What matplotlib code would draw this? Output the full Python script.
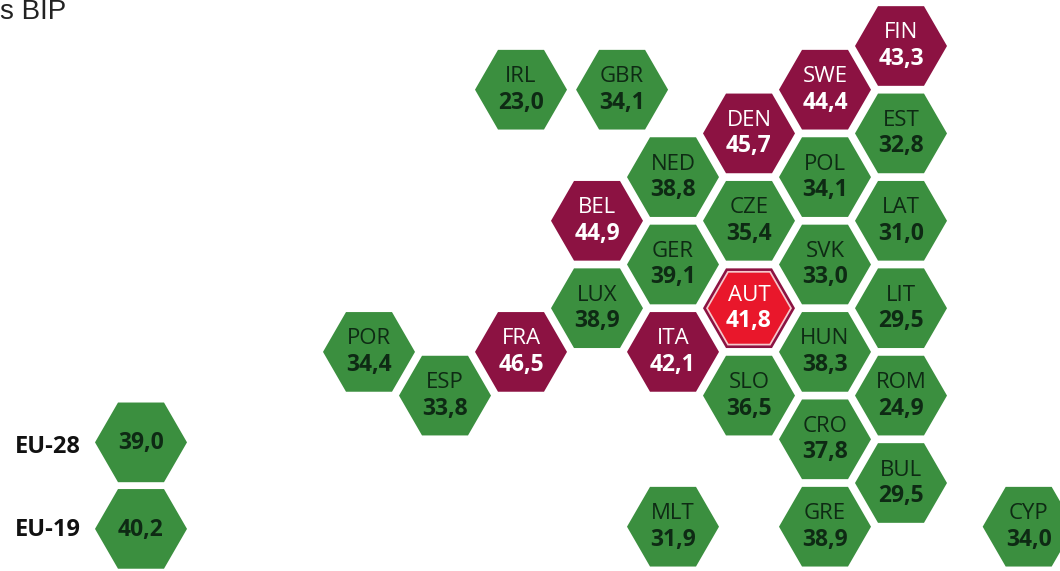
import matplotlib
matplotlib.use('Agg')
import matplotlib.pyplot as plt
from matplotlib.patches import RegularPolygon

# countries on the hex grid (half steps in rows)
codes = ['FIN', 'SWE', 'EST', 'DEN', 'POL', 'NED', 'LAT', 'CZE', 'BEL', 'SVK', 'GER',
         'LIT', 'AUT', 'LUX', 'HUN', 'ITA', 'FRA', 'POR', 'ROM', 'SLO', 'ESP', 'CRO',
         'BUL', 'GRE', 'MLT', 'IRL', 'GBR', 'CYP']
values = ['43,3', '44,4', '32,8', '45,7', '34,1', '38,8', '31,0', '35,4', '44,9', '33,0', '39,1',
          '29,5', '41,8', '38,9', '38,3', '42,1', '46,5', '34,4', '24,9', '36,5', '33,8', '37,8',
          '29,5', '38,9', '31,9', '23,0', '34,1', '34,0']
cols = [7, 6, 7, 5, 6, 4, 7, 5, 3, 6, 4,
        7, 5, 3, 6, 4, 2, 0, 7, 5, 1, 6,
        7, 6, 4, 2, 3.33, 8.68]
rows = [0, 1, 2, 2, 3, 3, 4, 4, 4, 5, 5,
        6, 6, 6, 7, 7, 7, 7, 8, 8, 8, 9,
        10, 11, 11, 1, 1, 11]
high = ['FIN', 'SWE', 'DEN', 'BEL', 'FRA', 'ITA']

eu_labels = ['EU-28', 'EU-19']
eu_values = ['39,0', '40,2']
eu_cols = [-3, -3]
eu_rows = [9.07, 11.05]
eu_shift = [5, 1]

GREEN = '#3b8f3f'
MAROON = '#8c1242'
RED = '#e9172b'
DARK = '#0e2a14'
FONT = 'Open Sans'

X0, DX = 369, 76
Y0, DY = 46, 43.7
R = 46


def px(c, r):
    return X0 + DX * c, Y0 + DY * r


def hexagon(ax, x, y, color, radius=R, **kw):
    # flat top, points left and right
    ax.add_patch(RegularPolygon((x, y), 6, radius=radius, orientation=0.5236 * 3,
                                facecolor=color, edgecolor='none', **kw))


fig = plt.figure(figsize=(10.6, 5.71), dpi=100)
ax = fig.add_axes([0, 0, 1, 1])
ax.set_xlim(0, 1060)
ax.set_ylim(571, 0)
ax.axis('off')

for code, val, c, r in zip(codes, values, cols, rows):
    x, y = px(c, r)
    if code == 'AUT':
        hexagon(ax, x, y, MAROON)
        hexagon(ax, x, y, '#f6c9cc', radius=43)
        hexagon(ax, x, y, RED, radius=41)
        tc = 'white'
    elif code in high:
        hexagon(ax, x, y, MAROON)
        tc = 'white'
    else:
        hexagon(ax, x, y, GREEN)
        tc = DARK
    ax.text(x, y - 13, code, color=tc, fontsize=16, family=FONT, ha='center', va='center')
    ax.text(x, y + 13, val, color=tc, fontsize=16.5, family=FONT, weight='bold', ha='center', va='center')

for lab, val, c, r, s in zip(eu_labels, eu_values, eu_cols, eu_rows, eu_shift):
    x, y = px(c, r)
    hexagon(ax, x, y, GREEN)
    ax.text(x, y + 1, val, color=DARK, fontsize=16.5, family=FONT, weight='bold', ha='center', va='center')
    ax.text(x - 60, y + s, lab, color='#111111', fontsize=17, family=FONT, weight='bold', ha='right', va='center')

ax.text(0, 12, 's BIP', color='#222222', fontsize=20, family='Liberation Sans', ha='left', va='center')

fig.savefig('out.png', dpi=100)
